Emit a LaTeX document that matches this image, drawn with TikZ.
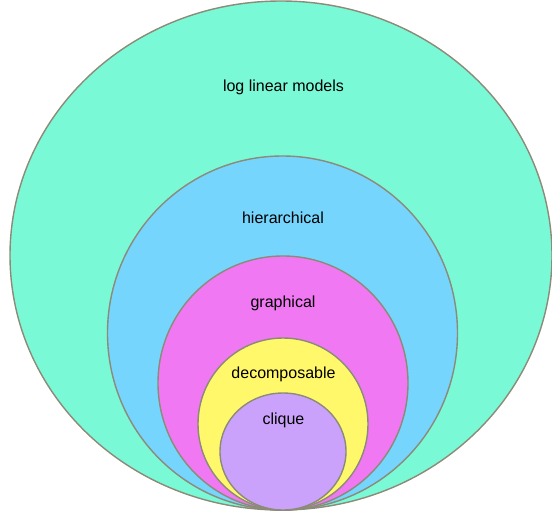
\documentclass[tikz,border=0pt]{standalone}
\usepackage{fontspec}
\setmainfont{Liberation Sans}
\usetikzlibrary{shapes.geometric}
\definecolor{cOuter}{HTML}{7AF9D6}
\definecolor{cBlue}{HTML}{75D5FD}
\definecolor{cMag}{HTML}{F178F3}
\definecolor{cYel}{HTML}{FFF86A}
\definecolor{cPur}{HTML}{CBA2FB}
\definecolor{cEdge}{HTML}{8C8A78}
\begin{document}
\begin{tikzpicture}[x=1pt,y=-1pt,
  setbox/.style={ellipse,draw=cEdge,line width=1.4pt,inner sep=0pt,outer sep=0pt},
  lbl/.style={font=\fontsize{16}{19}\selectfont,text=black,inner sep=0pt}]
\useasboundingbox (0,0) rectangle (552,512);
\node[setbox,fill=cOuter,minimum width=542pt,minimum height=509pt] (outer) at (281,255.5) {};
\node[setbox,fill=cBlue,minimum width=350pt,minimum height=354pt] (hier) at (282.5,333) {};
\node[setbox,fill=cMag,minimum width=250pt,minimum height=254pt] (graph) at (283,383) {};
\node[setbox,fill=cYel,minimum width=170pt,minimum height=172pt] (decomp) at (283,424) {};
\node[setbox,fill=cPur,minimum width=126pt,minimum height=117pt] (cliq) at (283,451.5) {};
\node[lbl] (t1) at (283.5,87) {log linear models};
\node[lbl] (t2) at (283,218) {hierarchical};
\node[lbl] (t3) at (283,303) {graphical};
\node[lbl] (t4) at (283.5,374) {decomposable};
\node[lbl] (t5) at (283.5,420) {clique};
\end{tikzpicture}
\end{document}
